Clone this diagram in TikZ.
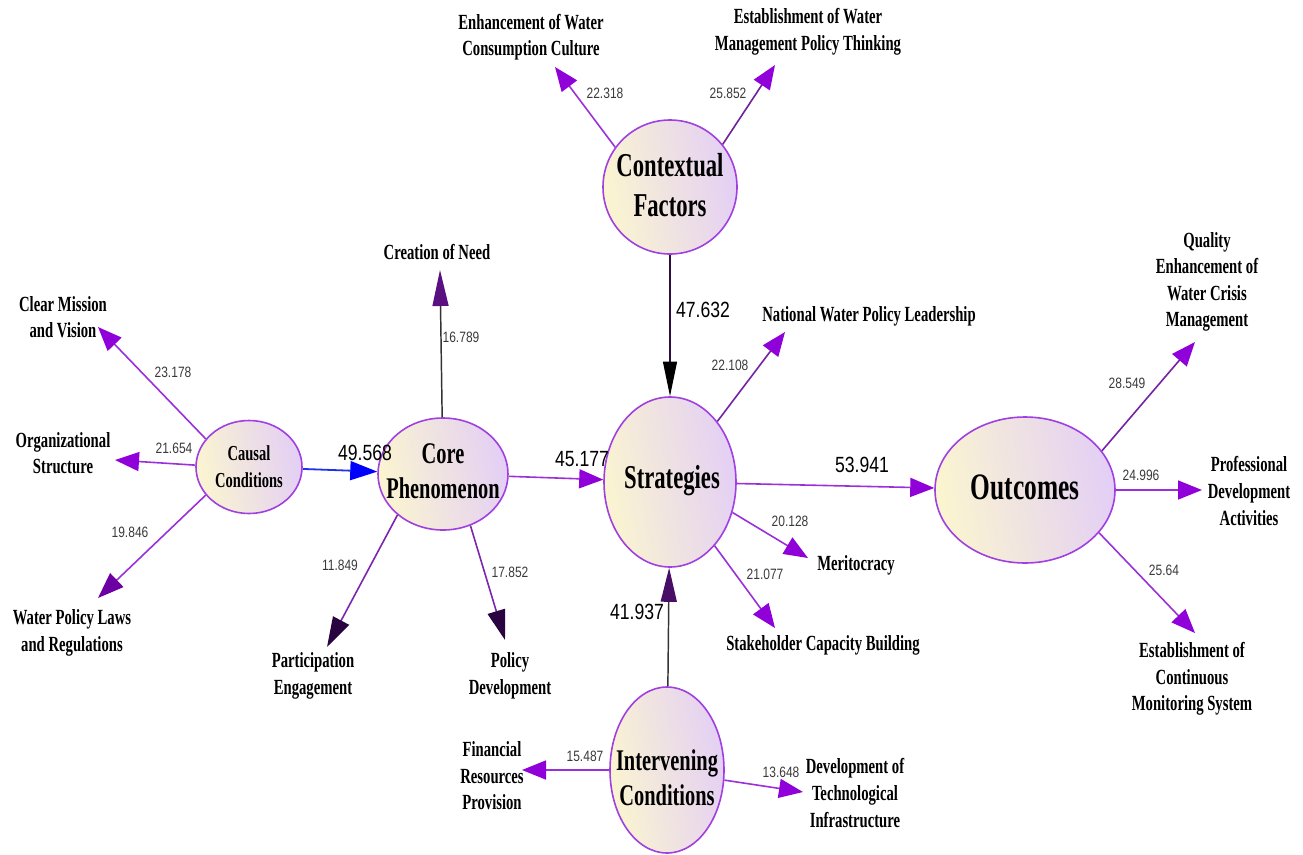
\documentclass[tikz,border=0pt]{standalone}
\usepackage{fontspec}
\usetikzlibrary{arrows.meta,shapes.geometric}
\newfontfamily\lblf[FakeStretch=0.68]{Liberation Serif}
\newfontfamily\numf[FakeStretch=0.8]{Liberation Sans}
\definecolor{edgep}{HTML}{9B30DA}
\definecolor{tipp}{HTML}{9000D8}
\definecolor{ellb}{HTML}{A040E0}
\definecolor{ellL}{HTML}{FBF5D0}
\definecolor{ellR}{HTML}{E3CFF5}
\definecolor{darkt}{HTML}{2A0440}
\definecolor{midt}{HTML}{5A1080}
\definecolor{numc}{HTML}{3A3A3A}
\definecolor{bluee}{HTML}{2030F0}
\begin{document}
\begin{tikzpicture}[x=0.75pt,y=-0.75pt,
  ell/.style={ellipse, draw=ellb, line width=1.2pt, left color=ellL, right color=ellR, shading angle=100, inner sep=0pt},
  elltext/.style={align=center, inner sep=0pt},
  lbl/.style={align=center, font=\lblf\bfseries\fontsize{16.2}{19.9}\selectfont, inner sep=0pt},
  num/.style={font=\numf\fontsize{11.25}{13}\selectfont, text=numc, inner sep=0pt},
  bignum/.style={font=\numf\fontsize{16.5}{18}\selectfont, text=black, inner sep=0pt},
  arr/.style={draw=edgep, line width=1.2pt, -{Triangle[length=18pt,width=14.25pt,color=tipp]}},
  darkarr/.style={draw=edgep!80!black, line width=1.2pt, -{Triangle[length=22.5pt,width=13.5pt,color=darkt]}},
]
\useasboundingbox (0,0) rectangle (1303,854);

% main ellipses
\node[ell, minimum width=100.5pt, minimum height=100.5pt] (ctx) at (670,187) {};
\node[ell, minimum width=79.5pt, minimum height=69.75pt] (cause) at (249,467) {};
\node[ell, minimum width=97.5pt, minimum height=84pt] (core) at (443,474) {};
\node[ell, minimum width=99pt, minimum height=127.5pt] (strat) at (670,482) {};
\node[ell, minimum width=135pt, minimum height=109.5pt] (out) at (1025,490) {};
\node[ell, minimum width=85.5pt, minimum height=124.5pt] (interv) at (667,770) {};

\node[elltext, font=\lblf\bfseries\fontsize{25}{30}\selectfont] (ctxT) at (670,185) {Contextual\\Factors};
\node[elltext, font=\lblf\bfseries\fontsize{16}{20}\selectfont] (causeT) at (249,467) {Causal\\Conditions};
\node[elltext, font=\lblf\bfseries\fontsize{22.5}{26}\selectfont] (coreT) at (443,471) {Core\\Phenomenon};
\node[elltext, font=\lblf\bfseries\fontsize{25}{30}\selectfont] (stratT) at (672,481) {Strategies};
\node[elltext, font=\lblf\bfseries\fontsize{28}{32}\selectfont] (outT) at (1025,487) {Outcomes};
\node[elltext, font=\lblf\bfseries\fontsize{22.5}{26}\selectfont] (intervT) at (667,778) {Intervening\\Conditions};

% text nodes
\node[lbl] (enh) at (531,37) {Enhancement of Water\\Consumption Culture};
\node[lbl] (estw) at (808,32) {Establishment of Water\\Management Policy Thinking};
\node[lbl] (need) at (437,252) {Creation of Need};
\node[lbl] (clear) at (63,317) {Clear Mission\\and Vision};
\node[lbl] (org) at (63,453) {Organizational\\Structure};
\node[lbl] (laws) at (72,633) {Water Policy Laws\\and Regulations};
\node[lbl] (part) at (313,676) {Participation\\Engagement};
\node[lbl] (poldev) at (510,676) {Policy\\Development};
\node[lbl] (nat) at (869,316) {National Water Policy Leadership};
\node[lbl] (merit) at (856,565) {Meritocracy};
\node[lbl] (stake) at (823,645) {Stakeholder Capacity Building};
\node[lbl] (qual) at (1207,282) {Quality\\Enhancement of\\Water Crisis\\Management};
\node[lbl] (prof) at (1249,491) {Professional\\Development\\Activities};
\node[lbl] (cont) at (1192,679) {Establishment of\\Continuous\\Monitoring System};
\node[lbl] (fin) at (492,776) {Financial\\Resources\\Provision};
\node[lbl] (tech) at (855,793) {Development of\\Technological\\Infrastructure};

% arrow tips (free ends)
\coordinate (tEnh) at (555,67);
\coordinate (tEst) at (775,65);
\coordinate (tNeed) at (440,270);
\coordinate (tClear) at (98,327);
\coordinate (tOrg) at (115,460);
\coordinate (tLaws) at (98,598);
\coordinate (tPart) at (327,647);
\coordinate (tPol) at (505,640);
\coordinate (tNat) at (785,332);
\coordinate (tMerit) at (808,558);
\coordinate (tStake) at (775,628);
\coordinate (tFin) at (522,770);
\coordinate (tTech) at (803,792);
\coordinate (tQual) at (1195,342);
\coordinate (tProf) at (1202,490);
\coordinate (tCont) at (1195,633);

% connectors
\draw[arr] (ctx.144) -- (tEnh);
\draw[arr, draw=edgep!70!black] (ctx.39) -- (tEst);
\draw[line width=0.9pt, draw=black!70!edgep, -{Triangle[length=26pt,width=10.5pt,color=black]}] (ctx) -- (strat);
\draw[line width=1.1pt, draw=black!80, -{Triangle[length=27pt,width=12pt,color=midt]}] (core) -- (tNeed);
\draw[arr] (cause.147) -- (tClear);
\draw[arr] (cause.178) -- (tOrg);
\draw[arr, -{Triangle[length=19.5pt,width=14.25pt,color=tipp!75!black]}] (cause.213) -- (tLaws);
\draw[line width=1.35pt, draw=bluee, -{Triangle[length=20.25pt,width=14.25pt,color=blue]}] (cause) -- (core);
\draw[darkarr] (core.222) -- (tPart);
\draw[darkarr] (core.298) -- (tPol);
\draw[arr] (core) -- (strat);
\draw[arr, draw=edgep!75!black] (strat.52) -- (tNat);
\draw[arr] (strat) -- (out);
\draw[arr] (strat.334) -- (tMerit);
\draw[arr] (strat.305) -- (tStake);
\draw[line width=1.1pt, draw=black!80, -{Triangle[length=25.5pt,width=12pt,color=midt!80!black]}] (interv) -- (strat);
\draw[arr] (interv) -- (tFin);
\draw[arr] (interv.350) -- (tTech);
\draw[arr, draw=edgep!75!black] (out.27) -- (tQual);
\draw[arr] (out.east) -- (tProf);
\draw[arr] (out.330) -- (tCont);

% weights
\node[num] (w1) at (605,93) {22.318};
\node[num] (w2) at (728,93) {25.852};
\node[bignum] (w3) at (703,310) {47.632};
\node[num] (w4) at (461,337) {16.789};
\node[num] (w5) at (173,372) {23.178};
\node[num] (w6) at (174,448) {21.654};
\node[num] (w7) at (130,532) {19.846};
\node[bignum] (w8) at (365,453) {49.568};
\node[num] (w9) at (340,565) {11.849};
\node[num] (w10) at (510,572) {17.852};
\node[bignum] (w11) at (582,459) {45.177};
\node[num] (w12) at (730,365) {22.108};
\node[bignum] (w13) at (862,465) {53.941};
\node[num] (w14) at (790,521) {20.128};
\node[num] (w15) at (765,574) {21.077};
\node[bignum] (w16) at (637,612) {41.937};
\node[num] (w17) at (585,756) {15.487};
\node[num] (w18) at (781,772) {13.648};
\node[num] (w19) at (1127,383) {28.549};
\node[num] (w20) at (1141,475) {24.996};
\node[num] (w21) at (1164,570) {25.64};
\end{tikzpicture}
\end{document}
